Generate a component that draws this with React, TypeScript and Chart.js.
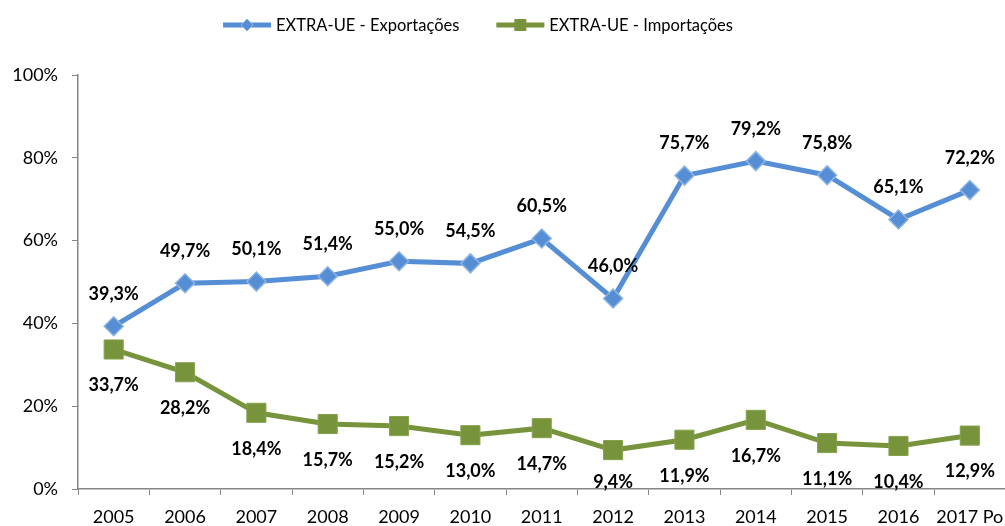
import React, { useEffect, useRef } from "react";
import { Chart, registerables } from "chart.js";

Chart.register(...registerables);

const categories = ["2005", "2006", "2007", "2008", "2009", "2010", "2011", "2012", "2013", "2014", "2015", "2016", "2017 Po"];
const exportsPct = [39.3, 49.7, 50.1, 51.4, 55.0, 54.5, 60.5, 46.0, 75.7, 79.2, 75.8, 65.1, 72.2];
const importsPct = [33.7, 28.2, 18.4, 15.7, 15.2, 13.0, 14.7, 9.4, 11.9, 16.7, 11.1, 10.4, 12.9];
const seriesNames = ["EXTRA-UE - Exportações", "EXTRA-UE - Importações"];

const BLUE = "#558ED5";
const BLUE_EDGE = "#8DB4E2";
const GREEN = "#77933C";
const AXIS = "#868686";
const FONT = "Lato, 'Open Sans', sans-serif";

const fmt = (v: number) => v.toFixed(1).replace(".", ",") + "%";

const labelPlugin = {
  id: "pointLabels",
  afterDatasetsDraw(chart: any) {
    const ctx = chart.ctx;
    ctx.save();
    ctx.font = `bold 18px ${FONT}`;
    ctx.fillStyle = "#000";
    ctx.textAlign = "center";
    ctx.textBaseline = "middle";
    const bottom = chart.chartArea.bottom;
    chart.data.datasets.forEach((ds: any, di: number) => {
      const meta = chart.getDatasetMeta(di);
      meta.data.forEach((pt: any, i: number) => {
        const v = ds.data[i] as number;
        const y = di === 0 ? pt.y - 32 : Math.min(pt.y + 36, bottom - 7);
        ctx.fillText(fmt(v), pt.x, y);
      });
    });
    ctx.restore();
  },
};

const legendPlugin = {
  id: "customLegend",
  afterDraw(chart: any) {
    const ctx = chart.ctx;
    ctx.save();
    ctx.font = `16.5px ${FONT}`;
    ctx.textBaseline = "middle";
    ctx.textAlign = "left";
    const cy = 25;
    const lineLen = 48;
    const gapText = 5;
    const gapItems = 37;
    const widths = seriesNames.map((n) => lineLen + gapText + ctx.measureText(n).width);
    const total = widths[0] + gapItems + widths[1];
    let x = 478 - total / 2;
    seriesNames.forEach((name, i) => {
      const color = i === 0 ? BLUE : GREEN;
      ctx.strokeStyle = color;
      ctx.lineWidth = 5;
      ctx.lineCap = "butt";
      ctx.beginPath();
      ctx.moveTo(x, cy);
      ctx.lineTo(x + lineLen, cy);
      ctx.stroke();
      const mx = x + lineLen / 2;
      ctx.fillStyle = color;
      if (i === 0) {
        ctx.beginPath();
        ctx.moveTo(mx, cy - 6);
        ctx.lineTo(mx + 6, cy);
        ctx.lineTo(mx, cy + 6);
        ctx.lineTo(mx - 6, cy);
        ctx.closePath();
        ctx.fill();
        ctx.strokeStyle = BLUE_EDGE;
        ctx.lineWidth = 1;
        ctx.stroke();
      } else {
        ctx.fillRect(mx - 6, cy - 6, 12, 12);
      }
      ctx.fillStyle = "#000";
      ctx.fillText(name, x + lineLen + gapText, cy + 1);
      x += widths[i] + gapItems;
    });
    ctx.restore();
  },
};

export default function App() {
  const ref = useRef<HTMLCanvasElement | null>(null);

  useEffect(() => {
    document.body.style.margin = "0";
    document.body.style.overflow = "hidden";
    const canvas = ref.current;
    if (!canvas) return;
    const chart = new Chart(canvas, {
      type: "line",
      data: {
        labels: categories,
        datasets: [
          {
            label: seriesNames[0],
            data: exportsPct,
            borderColor: BLUE,
            backgroundColor: BLUE,
            borderWidth: 5,
            pointStyle: "rectRot",
            pointRadius: 9.5,
            pointBackgroundColor: BLUE,
            pointBorderColor: BLUE_EDGE,
            pointBorderWidth: 1.5,
            tension: 0,
          },
          {
            label: seriesNames[1],
            data: importsPct,
            borderColor: GREEN,
            backgroundColor: GREEN,
            borderWidth: 5,
            pointStyle: "rect",
            pointRadius: 13.5,
            pointBackgroundColor: GREEN,
            pointBorderColor: "#86A24A",
            pointBorderWidth: 1,
            tension: 0,
          },
        ],
      },
      options: {
        responsive: false,
        maintainAspectRatio: false,
        animation: false,
        layout: { padding: { top: 75, left: 0, right: 0, bottom: 0 } },
        plugins: {
          legend: { display: false },
          tooltip: { enabled: false },
        },
        scales: {
          x: {
            offset: true,
            grid: {
              offset: true,
              drawOnChartArea: false,
              drawTicks: true,
              tickLength: 6,
              color: AXIS,
            },
            border: { color: AXIS, width: 1.5 },
            ticks: {
              color: "#000",
              font: { family: FONT, size: 18, lineHeight: 1.1 },
              padding: 12,
              autoSkip: false,
              maxRotation: 0,
            },
            afterFit: (scale: any) => {
              scale.height = 37;
            },
          },
          y: {
            min: 0,
            max: 100,
            grid: {
              drawOnChartArea: false,
              drawTicks: true,
              tickLength: 6,
              color: AXIS,
            },
            border: { color: AXIS, width: 1.5 },
            ticks: {
              stepSize: 20,
              color: "#000",
              font: { family: FONT, size: 18 },
              padding: 14,
              callback: (v: any) => v + "%",
            },
            afterFit: (scale: any) => {
              scale.width = 78;
            },
          },
        },
      },
      plugins: [labelPlugin, legendPlugin],
    });
    return () => chart.destroy();
  }, []);

  return (
    <div style={{ width: 1005, height: 526, position: "relative", overflow: "hidden", background: "#fff" }}>
      <canvas ref={ref} width={1020} height={526} style={{ display: "block" }} />
    </div>
  );
}
